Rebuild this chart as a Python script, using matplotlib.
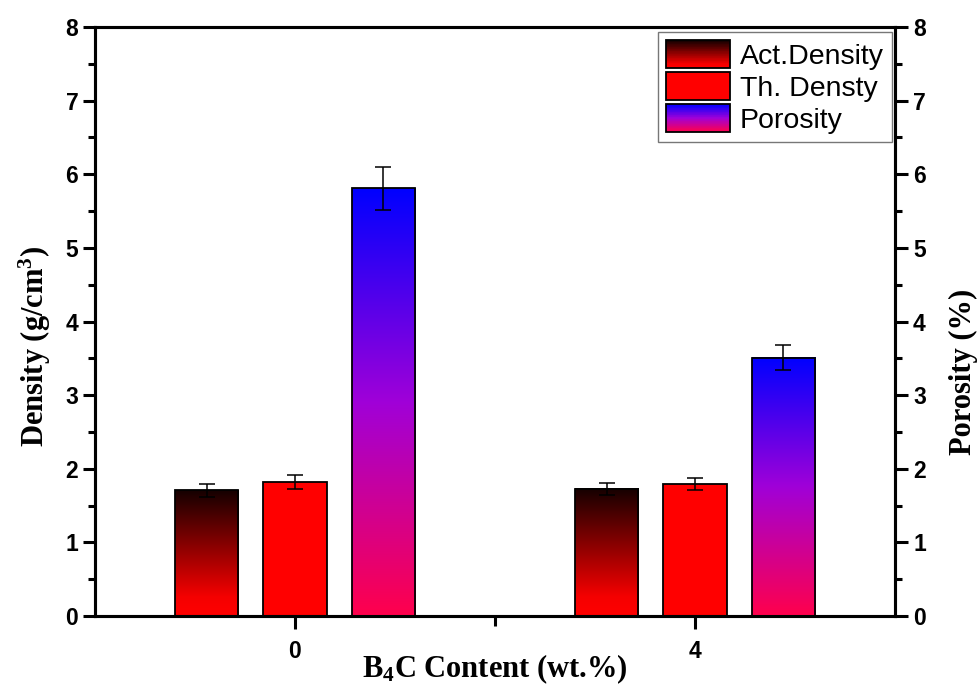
import numpy as np
import matplotlib
matplotlib.use("Agg")
import matplotlib.pyplot as plt
from matplotlib.colors import LinearSegmentedColormap
from matplotlib.legend_handler import HandlerBase
from matplotlib.patches import Rectangle, Patch

# data
categories = ['0', '4']
act_density = [1.71, 1.73]
act_density_err = [0.09, 0.08]
th_density = [1.82, 1.79]
th_density_err = [0.09, 0.08]
porosity = [5.81, 3.51]
porosity_err = [0.29, 0.17]
series_names = ['Act.Density', 'Th. Densty', 'Porosity']

plt.rcParams['mathtext.default'] = 'regular'

# bottom -> top colour ramps
cmap_act = LinearSegmentedColormap.from_list('act', [(0, '#ff0000'), (0.15, '#f50000'), (1, '#150000')])
cmap_th = LinearSegmentedColormap.from_list('th', ['#ff0000', '#ff0000'])
cmap_por = LinearSegmentedColormap.from_list('por', [(0, '#ff004c'), (0.5, '#a000d8'), (1, '#0000ff')])


class GradientHandler(HandlerBase):
    def __init__(self, cmap, n=40):
        super().__init__()
        self.cmap = cmap
        self.n = n

    def create_artists(self, legend, orig_handle, xdescent, ydescent, width, height, fontsize, trans):
        arts = []
        h = height / self.n
        for i in range(self.n):
            arts.append(Rectangle((-xdescent, -ydescent + i * h), width, h * 1.05,
                                  facecolor=self.cmap(i / (self.n - 1)), edgecolor='none',
                                  transform=trans))
        arts.append(Rectangle((-xdescent, -ydescent), width, height, facecolor='none',
                              edgecolor='black', lw=1.3, transform=trans))
        return arts


def gradient_bars(ax, xs, heights, width, cmap):
    grad = np.linspace(0, 1, 256).reshape(-1, 1)
    bars = ax.bar(xs, heights, width, facecolor='none', edgecolor='black', lw=1.3, zorder=3)
    for b in bars:
        x0 = b.get_x()
        ax.imshow(grad, extent=[x0, x0 + b.get_width(), 0, b.get_height()], origin='lower',
                  cmap=cmap, aspect='auto', zorder=2, interpolation='bilinear')
    return bars


fig = plt.figure(figsize=(9.78, 6.86), dpi=100)
ax = fig.add_axes([0.0971, 0.102, 0.818, 0.8586])
ax2 = ax.twinx()

x = np.arange(len(categories))
w = 0.158
off = 0.221

gradient_bars(ax, x - off, act_density, w, cmap_act)
gradient_bars(ax, x, th_density, w, cmap_th)
gradient_bars(ax2, x + off, porosity, w, cmap_por)

ekw = dict(fmt='none', ecolor='black', elinewidth=1.1, capsize=6, capthick=1.1, zorder=4)
ax.errorbar(x - off, act_density, yerr=act_density_err, **ekw)
ax.errorbar(x, th_density, yerr=th_density_err, **ekw)
ax2.errorbar(x + off, porosity, yerr=porosity_err, **ekw)

for a in (ax, ax2):
    a.set_xlim(-0.5, 1.5)
    a.set_ylim(0, 8)
    for s in a.spines.values():
        s.set_linewidth(2.2)

tick_font = dict(family='Liberation Sans', weight='bold', size=16.5)
label_font = dict(family='Liberation Serif', weight='bold', size=22)

ax.set_xticks(x)
ax.set_xticklabels(categories, fontdict=tick_font)
ax.set_xticks([0.5], minor=True)
ax.set_yticks(np.arange(0, 9, 1))
ax.set_yticklabels([str(v) for v in range(9)], fontdict=tick_font)
ax.set_yticks(np.arange(0.5, 8, 1), minor=True)
ax2.set_yticks(np.arange(0, 9, 1))
ax2.set_yticklabels([str(v) for v in range(9)], fontdict=tick_font)
ax2.set_yticks(np.arange(0.5, 8, 1), minor=True)

ax.tick_params(which='major', direction='out', length=9, width=2.2, pad=3)
ax.tick_params(which='minor', direction='out', length=5, width=2.2)
ax2.tick_params(which='major', direction='out', length=9, width=2.2, pad=4)
ax2.tick_params(which='minor', direction='out', length=5, width=2.2)
ax.tick_params(axis='x', which='major', pad=8)
ax.tick_params(axis='x', which='minor', length=7)

ax.set_xlabel('B$_4$C Content (wt.%)', fontdict=label_font)
ax.set_ylabel('Density (g/cm$^3$)', fontdict=label_font)
ax2.set_ylabel('Porosity (%)', fontdict=label_font)
ax.xaxis.set_label_coords(0.5, -0.061)
ax.yaxis.set_label_coords(-0.052, 0.457)
ax2.yaxis.set_label_coords(1.068, 0.415)

handles = [Patch(label=n) for n in series_names]
hmap = {handles[0]: GradientHandler(cmap_act),
        handles[1]: GradientHandler(cmap_th),
        handles[2]: GradientHandler(cmap_por)}
leg = ax2.legend(handles=handles, handler_map=hmap, loc='upper right',
                 bbox_to_anchor=(0.9965, 0.992), prop=dict(family='Liberation Sans', size=20.5),
                 fancybox=False, framealpha=1, edgecolor='#777777', handlelength=2.22,
                 handleheight=1.13, labelspacing=0.08, handletextpad=0.35, borderpad=0.3,
                 borderaxespad=0)
leg.get_frame().set_linewidth(1.0)

fig.savefig('out.png', dpi=100)
